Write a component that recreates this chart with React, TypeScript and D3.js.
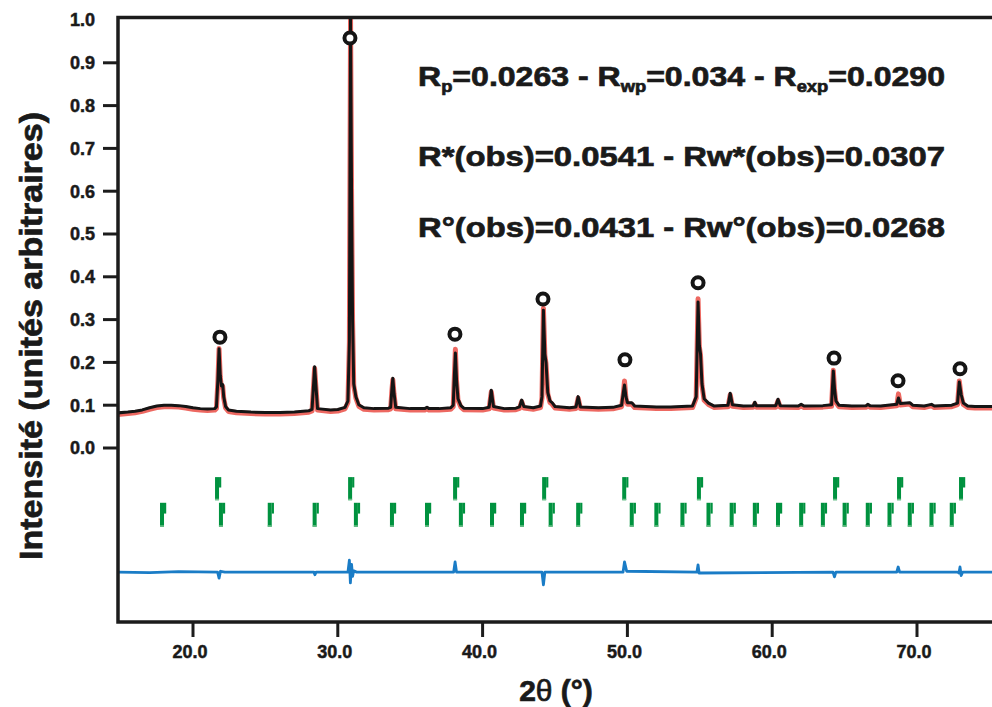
import React from "react";
import * as d3 from "d3";

// ---------- DATA ----------
const yTicks = [0.0, 0.1, 0.2, 0.3, 0.4, 0.5, 0.6, 0.7, 0.8, 0.9, 1.0];
const xTicks = [20, 30, 40, 50, 60, 70];

// calculated profile [2theta, intensity]
const calcProfile: [number, number][] = [
  [14.8, 0.082], [15.5, 0.084], [16, 0.086], [16.5, 0.089], [17, 0.094], [17.5, 0.098], [18, 0.1], [18.5, 0.1], [19, 0.099], [19.5, 0.097], [20, 0.094], [20.5, 0.092], [21, 0.091], [21.5, 0.092],
  [21.62, 0.096], [21.72, 0.16], [21.8, 0.232], [21.88, 0.17], [21.96, 0.145], [22.05, 0.148], [22.12, 0.12], [22.25, 0.097], [22.45, 0.089],
  [23, 0.086], [24, 0.084], [25, 0.083], [26, 0.083], [27, 0.084], [28, 0.087],
  [28.22, 0.09], [28.33, 0.15], [28.4, 0.19], [28.48, 0.15], [28.6, 0.092],
  [29.5, 0.089], [30, 0.09], [30.5, 0.095], [30.7, 0.11], [30.8, 0.25], [30.88, 1.01], [30.95, 0.6], [31.02, 0.3], [31.1, 0.15], [31.25, 0.12], [31.45, 0.101], [31.8, 0.094],
  [32.5, 0.092], [33.5, 0.093],
  [33.65, 0.095], [33.74, 0.14], [33.8, 0.163], [33.88, 0.13], [34.0, 0.095],
  [35, 0.092], [36, 0.092], [36.16, 0.095], [36.3, 0.092], [37, 0.092], [37.8, 0.094],
  [37.97, 0.1], [38.05, 0.17], [38.12, 0.222], [38.2, 0.16], [38.3, 0.115], [38.5, 0.099], [38.7, 0.093],
  [40, 0.092], [40.45, 0.095], [40.6, 0.135], [40.75, 0.097], [41.5, 0.092], [42.3, 0.093], [42.55, 0.096], [42.7, 0.112], [42.85, 0.097], [43.5, 0.094], [44.0, 0.098],
  [44.1, 0.12], [44.2, 0.322], [44.3, 0.22], [44.38, 0.2], [44.5, 0.13], [44.65, 0.11], [44.8, 0.106], [45.0, 0.097],
  [46, 0.094], [46.45, 0.096], [46.6, 0.12], [46.75, 0.096], [48, 0.094], [49, 0.095], [49.6, 0.1],
  [49.72, 0.13], [49.8, 0.147], [49.9, 0.12], [50.0, 0.106], [50.3, 0.106], [50.5, 0.098],
  [52, 0.096], [53, 0.096], [54.5, 0.098], [54.75, 0.12], [54.88, 0.341], [54.97, 0.24], [55.05, 0.22], [55.15, 0.15], [55.3, 0.115], [55.6, 0.105], [56, 0.098],
  [56.95, 0.1], [57.1, 0.128], [57.25, 0.101], [58, 0.098], [58.7, 0.099], [58.8, 0.107], [58.9, 0.099], [60.25, 0.099], [60.4, 0.114], [60.55, 0.099],
  [61.8, 0.098], [62.0, 0.102], [62.2, 0.098], [63.5, 0.099], [64.1, 0.101], [64.22, 0.18], [64.3, 0.14], [64.4, 0.11], [64.6, 0.1],
  [65.5, 0.098], [66.5, 0.099], [66.6, 0.102], [66.75, 0.099], [67.5, 0.098], [68.6, 0.102], [68.72, 0.117], [68.85, 0.104], [69.5, 0.106], [69.7, 0.1],
  [70.5, 0.098], [71, 0.102], [71.2, 0.098], [72.4, 0.1], [72.8, 0.105], [72.92, 0.154], [73.05, 0.125], [73.2, 0.105], [73.5, 0.098], [74, 0.097], [75.3, 0.097],
];

// observed peak tops that differ from the calculated curve
const obsPeakTops: [number, number][] = [
  [21.8, 0.236], [38.12, 0.234], [44.2, 0.33], [49.8, 0.16], [54.88, 0.352], [64.22, 0.185], [68.72, 0.13], [72.92, 0.16],
];

// difference curve (obs - calc), plotted with offset
const diffProfile: [number, number][] = [
  [14.8, -0.29], [17, -0.291], [19, -0.289], [21.7, -0.29], [21.8, -0.304], [21.9, -0.288], [22.2, -0.29], [25, -0.29],
  [28.35, -0.29], [28.42, -0.296], [28.5, -0.29], [30.7, -0.29], [30.8, -0.262], [30.87, -0.315], [30.95, -0.272], [31.02, -0.3], [31.1, -0.287], [31.3, -0.29],
  [33.8, -0.29], [38.0, -0.29], [38.1, -0.266], [38.2, -0.29], [44.1, -0.29], [44.2, -0.32], [44.3, -0.29], [49.7, -0.29], [49.8, -0.266], [49.95, -0.288],
  [54.8, -0.29], [54.88, -0.273], [54.95, -0.292], [64.2, -0.29], [64.3, -0.301], [64.4, -0.29], [68.6, -0.29], [68.7, -0.278], [68.8, -0.29],
  [72.8, -0.29], [72.9, -0.292], [72.97, -0.278], [73.05, -0.298], [73.15, -0.29], [75.3, -0.29],
];

// Bragg reflection positions
const braggPhase1 = [21.66, 30.85, 38.1, 44.25, 49.78, 54.94, 64.34, 68.76, 73.04];
const braggPhase2 = [17.86, 21.93, 25.3, 28.4, 31.25, 33.74, 36.16, 38.5, 40.65, 42.72, 44.7, 46.6, 50.3, 52.0, 53.8, 55.6, 57.2, 58.8, 60.4, 62.0, 63.5, 65.0, 66.6, 68.1, 69.5, 71.0, 72.4];

// marked peaks (open circles)
const markedPeaks: [number, number][] = [
  [21.86, 0.259], [30.84, 0.958], [38.09, 0.266], [44.17, 0.348], [49.83, 0.206], [54.88, 0.386], [64.27, 0.21], [68.69, 0.157], [72.97, 0.185],
];

const statLines = [
  "R*(obs)=0.0541 - Rw*(obs)=0.0307",
  "R°(obs)=0.0431 - Rw°(obs)=0.0268",
];

// ---------- LAYOUT ----------
const W = 992, H = 707;
const FONT = "'Liberation Sans', Arial, Helvetica, sans-serif";
const INK = "#1a1a1a";

export default function App() {
  const x = d3.scaleLinear().domain([20, 70]).range([193, 917]);
  const y = d3.scaleLinear().domain([0, 1]).range([448, 20]);

  const frameL = 118, frameT = 17.5, frameB = 622;

  const line = d3.line<[number, number]>().x(d => x(d[0])).y(d => y(d[1]));

  const obsMap = new Map(obsPeakTops.map(d => [d[0], d[1]]));
  const obsProfile: [number, number][] = calcProfile.map(d => [d[0], obsMap.has(d[0]) ? (obsMap.get(d[0]) as number) : d[1]]);

  const green = "#00923f";
  const row1 = [-0.068, -0.122];
  const row2 = [-0.128, -0.184];

  const tick = (pos: number, r: number[], key: string) => {
    const x0 = x(pos);
    const yt = y(r[0]), yb = y(r[1]);
    const h = yb - yt;
    return (
      <g key={key}>
        <rect x={x0 - 2} y={yt} width={4} height={h} fill={green} />
        <rect x={x0 + 2} y={yt} width={2.2} height={h * 0.45} fill={green} />
        <rect x={x0 - 2} y={yb - 1.5} width={4} height={1.5} fill="#6cc08a" />
      </g>
    );
  };

  const heavy = { stroke: INK, strokeWidth: 0.7, paintOrder: "stroke" as const };

  return (
    <svg width={W} height={H} style={{ position: "absolute", left: 0, top: 0, background: "#fff" }} fontFamily={FONT}>
      <defs>
        <clipPath id="plotClip">
          <rect x={frameL} y={frameT} width={W - frameL} height={frameB - frameT} />
        </clipPath>
      </defs>

      <g clipPath="url(#plotClip)">
        {/* observed (red) */}
        <path d={line(obsProfile) || ""} fill="none" stroke="#e8423a" strokeWidth={5} strokeLinejoin="round" opacity={0.8} transform="translate(0,1.5)" />
        {/* calculated (black) */}
        <path d={line(calcProfile) || ""} fill="none" stroke="#151515" strokeWidth={3} strokeLinejoin="round" />
        {/* difference (blue) */}
        <path d={line(diffProfile) || ""} fill="none" stroke="#1a7cc6" strokeWidth={2.8} strokeLinejoin="round" />
        {/* Bragg ticks */}
        {braggPhase1.map((p, i) => tick(p, row1, "a" + i))}
        {braggPhase2.map((p, i) => tick(p, row2, "b" + i))}
        {/* circles */}
        {markedPeaks.map((d, i) => (
          <circle key={i} cx={x(d[0])} cy={y(d[1])} r={5.5} fill="#fff" stroke="#151515" strokeWidth={4} />
        ))}
      </g>

      {/* frame */}
      <path d={`M${W + 5},${frameT} H${frameL} V${frameB} H${W + 5}`} fill="none" stroke="#1c1c1c" strokeWidth={3.5} />

      {/* y ticks */}
      {yTicks.filter(v => v < 1).map(v => (
        <line key={v} x1={103} x2={frameL} y1={y(v)} y2={y(v)} stroke="#1c1c1c" strokeWidth={3} />
      ))}
      {yTicks.map(v => (
        <text key={"t" + v} x={95} y={y(v)} dy="0.36em" textAnchor="end" fontSize={18} fontWeight="bold" fill={INK} {...heavy} strokeWidth={0.5}>
          {v.toFixed(1)}
        </text>
      ))}

      {/* x ticks */}
      {xTicks.map(v => (
        <g key={v}>
          <line x1={x(v)} x2={x(v)} y1={frameB} y2={637} stroke="#1c1c1c" strokeWidth={3} />
          <text x={x(v) - 3} y={658} textAnchor="middle" fontSize={18} fontWeight="bold" fill={INK} {...heavy} strokeWidth={0.5}>{v.toFixed(1)}</text>
        </g>
      ))}

      {/* axis titles */}
      <text x={556} y={701} textAnchor="middle" fontSize={30} fontWeight="bold" fill={INK} {...heavy}>
        2<tspan fontWeight="normal">θ</tspan> (°)
      </text>
      <text transform="translate(42,336) rotate(-90)" textAnchor="middle" fontSize={31} fontWeight="bold" fill={INK} textLength={448} lengthAdjust="spacingAndGlyphs" {...heavy}>
        Intensité (unités arbitraires)
      </text>

      {/* statistics */}
      <text x={418} y={86} fontSize={28} fontWeight="bold" fill={INK} textLength={527} lengthAdjust="spacingAndGlyphs" {...heavy}>
        R<tspan fontSize={16} dy={6}>p</tspan><tspan dy={-6}>=0.0263 - R</tspan><tspan fontSize={16} dy={6}>wp</tspan><tspan dy={-6}>=0.034 - R</tspan><tspan fontSize={16} dy={6}>exp</tspan><tspan dy={-6}>=0.0290</tspan>
      </text>
      {statLines.map((s, i) => (
        <text key={i} x={418} y={166 + i * 71} fontSize={28} fontWeight="bold" fill={INK} textLength={527} lengthAdjust="spacingAndGlyphs" {...heavy}>
          {s}
        </text>
      ))}
    </svg>
  );
}
